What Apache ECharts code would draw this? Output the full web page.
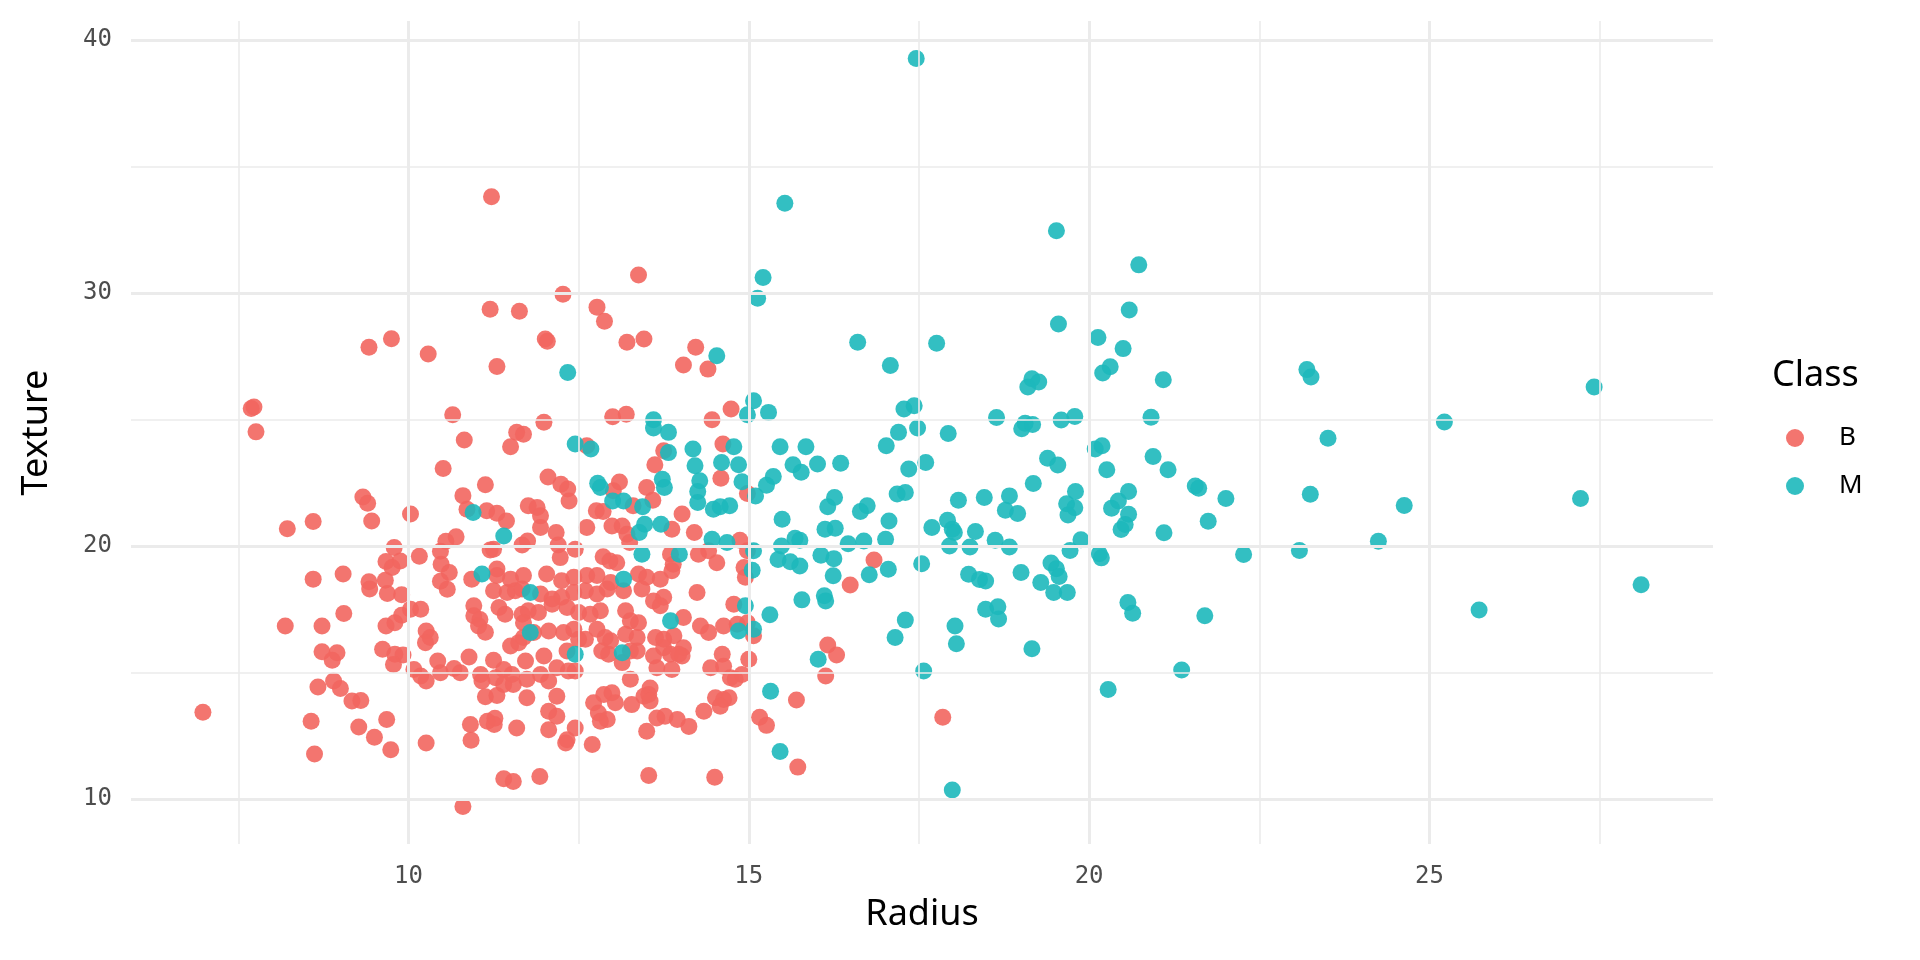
<!DOCTYPE html>
<html>
<head>
<meta charset="utf-8">
<title>Radius vs Texture</title>
<script src="https://cdn.jsdelivr.net/npm/echarts@6/dist/echarts.min.js"></script>
<style>
  html, body { margin: 0; padding: 0; background: #fff; }
  #main { width: 1920px; height: 960px; }
</style>
</head>
<body>
<div id="main"></div>
<script>
// values: [radius, texture]
var benign = [
  [7.69,25.44],[7.73,25.50],[7.76,24.52],[9.42,27.86],[9.75,28.20],[10.29,27.60],[11.30,27.10],[10.65,25.20],
  [10.82,24.20],[10.51,23.07],[11.13,22.43],[10.80,22.00],[10.86,21.46],[11.15,21.40],[11.30,21.30],[9.33,21.95],
  [9.40,21.70],[9.46,21.00],[10.03,21.27],[8.22,20.69],[8.60,20.98],[9.79,19.95],[10.16,19.60],[9.67,19.40],
  [9.76,19.16],[9.88,19.42],[10.47,19.80],[10.55,20.20],[10.70,20.37],[10.48,19.29],[10.60,18.96],[11.25,19.88],
  [11.20,19.85],[11.30,19.10],[9.04,18.90],[8.60,18.70],[9.42,18.60],[9.66,18.66],[10.93,18.70],
  [9.43,18.31],[9.69,18.13],[9.90,18.08],[10.47,18.62],[10.57,18.30],[11.25,18.24],[11.33,17.58],[10.03,17.51],
  [10.18,17.51],[9.90,17.27],[9.80,16.98],[9.67,16.85],[9.05,17.34],[8.19,16.85],[8.73,16.85],[10.96,17.65],
  [10.96,17.25],[11.05,17.10],[11.03,16.85],[11.13,16.60],[10.26,16.65],[10.32,16.39],[10.25,16.19],[9.62,15.93],
  [9.80,15.73],[9.92,15.70],[9.78,15.33],[8.73,15.83],[8.95,15.79],[8.88,15.49],[10.43,15.46],[10.08,15.13],
  [10.18,14.87],[10.26,14.67],[10.47,15.00],[10.67,15.17],[10.76,15.00],[10.89,15.62],[11.06,14.93],[11.08,14.67],
  [11.25,15.49],[11.28,14.80],[11.13,14.05],[11.30,14.10],[8.67,14.44],[8.90,14.67],[9.00,14.38],[9.17,13.88],
  [9.30,13.90],[8.57,13.08],[9.27,12.86],[9.68,13.15],[9.50,12.45],[9.74,11.96],[8.62,11.79],[10.26,12.22],
  [10.91,12.95],[10.92,12.33],[11.16,13.08],[11.27,13.20],[11.26,12.95],[6.98,13.44],[10.80,9.71],
  [12.01,28.19],[12.04,28.10],[13.21,28.06],[13.46,28.19],[14.22,27.86],[14.04,27.16],[14.40,27.00],[14.74,25.42],
  [14.46,25.00],[13.00,25.12],[13.20,25.22],[11.99,24.90],[11.59,24.50],[11.69,24.43],[11.50,23.93],[12.62,23.97],
  [13.75,23.77],[13.62,23.22],[14.62,24.04],[14.59,22.69],[14.98,22.08],[12.05,22.74],[12.24,22.45],[12.34,22.26],
  [12.36,21.79],[13.10,22.54],[13.01,22.19],[13.50,22.32],[13.59,21.82],[13.30,21.60],[11.76,21.60],[11.89,21.53],
  [11.94,21.20],[11.44,21.00],[11.94,20.74],[12.76,21.40],[12.86,21.37],[12.62,20.74],[14.02,21.27],[12.99,20.80],
  [13.14,20.80],[13.21,20.47],[13.87,20.67],[14.20,20.54],[14.87,20.24],[14.98,19.82],[11.67,20.05],[11.75,20.21],
  [12.17,20.54],[12.20,20.05],[12.23,19.55],[12.45,19.88],[12.86,19.58],[12.96,19.42],[13.06,19.35],[13.25,20.15],
  [13.85,19.68],[13.89,19.29],[14.26,19.68],[14.41,19.82],[14.53,19.35],[14.93,19.16],
  [11.30,18.84],[11.50,18.70],[11.69,18.84],[12.03,18.90],[12.25,18.64],[12.43,18.77],[12.62,18.84],[12.77,18.84],
  [12.97,18.57],[13.38,18.90],[13.50,18.77],[13.70,18.70],[13.87,19.03],[14.24,18.17],[14.95,18.77],
  [11.45,18.17],[11.57,18.24],[11.67,18.31],[11.94,18.11],[12.11,17.91],[12.25,17.98],[12.43,18.17],[12.60,18.24],
  [12.77,18.11],[12.92,18.31],[13.16,18.24],[13.43,18.31],[13.60,17.84],[13.75,17.98],[14.78,17.71],
  [11.42,17.31],[11.67,17.31],[11.76,17.45],[11.91,17.38],[12.11,17.71],[12.33,17.58],[12.50,17.38],[12.67,17.31],
  [12.82,17.45],[13.19,17.45],[13.26,17.05],[13.38,16.98],[13.70,17.65],[14.04,17.18],[14.29,16.85],[14.41,16.59],
  [14.63,16.85],[14.83,16.92],[14.98,16.98],[15.07,16.46],[11.69,16.98],
  [11.50,16.06],[11.62,16.19],[11.69,16.39],[11.84,16.59],[12.06,16.65],[12.28,16.59],[12.43,16.72],[12.50,16.32],
  [12.60,16.32],[12.77,16.72],[12.89,16.39],[12.97,16.26],[13.19,16.52],[13.36,16.39],[13.36,15.86],[13.63,16.39],
  [13.75,16.32],[13.90,16.46],[14.04,15.99],[14.02,15.66],
  [11.72,15.46],[11.99,15.66],[12.18,15.20],[12.33,15.86],[12.35,15.07],[12.45,15.07],[12.84,15.86],[12.94,15.73],
  [13.14,15.40],[13.26,15.86],[13.60,15.66],[13.65,15.20],[13.75,15.99],[13.85,15.73],[13.87,15.13],[13.97,15.73],
  [14.44,15.20],[14.61,15.73],[14.63,15.26],[14.80,14.74],[15.00,15.53],
  [11.40,15.13],[11.52,14.93],[11.40,14.54],[11.54,14.54],[11.74,14.74],[11.94,14.93],[12.06,14.67],[12.18,14.07],
  [13.26,14.74],[13.55,14.40],[13.53,14.14],[14.90,14.93],[14.73,14.80],
  [11.74,14.01],[12.72,13.81],[12.87,14.14],[12.99,14.21],[13.04,13.81],[13.28,13.74],[13.46,14.07],[13.55,13.88],
  [14.51,14.01],[14.63,13.94],[14.71,14.01],[14.58,13.68],[14.34,13.48],
  [11.59,12.82],[12.06,13.48],[12.18,13.28],[12.06,12.75],[12.45,12.82],[12.79,13.41],[12.82,13.08],[12.92,13.15],
  [13.65,13.21],[13.77,13.28],[13.95,13.15],[14.12,12.88],[13.50,12.69],
  [12.33,12.35],[12.31,12.22],[12.70,12.16],
  [11.40,10.81],[11.54,10.70],[11.93,10.90],[13.53,10.94],[14.50,10.87],
  [16.84,19.46],[16.49,18.47],[16.16,16.10],[16.29,15.70],[16.13,14.87],[15.70,13.92],[15.16,13.24],[15.26,12.92],
  [17.85,13.24],[15.72,11.27],
  [11.22,33.81],[13.38,30.72],[12.27,29.96],[11.20,29.37],[11.63,29.29],[12.77,29.45],[12.88,28.89]
];

var malignant = [
  [10.95,21.33],[11.08,18.90],[11.40,20.40],
  [12.34,26.87],[14.53,27.53],[15.07,25.75],[14.98,25.20],[13.60,25.00],[13.60,24.67],[13.82,24.50],[12.45,24.04],
  [12.68,23.84],[13.82,23.70],[14.18,23.84],[14.21,23.18],[14.28,22.59],[14.25,22.16],[14.25,21.73],[14.78,23.93],
  [14.60,23.31],[14.85,23.22],[14.90,22.55],[15.10,21.99],[14.48,21.46],[14.58,21.56],[14.72,21.60],[13.73,22.65],
  [13.76,22.32],[12.78,22.49],[12.82,22.32],[13.00,21.79],[13.16,21.79],[13.44,21.56],[13.47,20.87],[13.39,20.54],
  [13.71,20.87],[14.46,20.28],[14.68,20.15],[15.07,19.82],[13.43,19.68],[13.98,19.68],[15.05,19.05],
  [13.16,18.70],[11.79,18.17],[14.95,17.65],[13.85,17.05],[15.07,16.72],[14.85,16.65],[11.79,16.59],[12.45,15.73],
  [13.14,15.79],
  [16.60,28.06],[17.76,28.02],[17.08,27.14],[15.29,25.29],[17.28,25.42],[17.43,25.55],[18.64,25.09],[17.20,24.50],
  [17.48,24.67],[17.93,24.46],[17.02,23.97],[15.46,23.93],[15.84,23.93],[15.65,23.22],[15.77,22.92],[16.01,23.25],
  [16.35,23.28],[17.35,23.05],[17.60,23.31],[15.36,22.76],[15.26,22.41],[17.18,22.06],[17.30,22.12],[16.26,21.93],
  [16.16,21.56],[16.74,21.60],[16.64,21.37],[18.08,21.82],[18.46,21.93],[18.83,21.99],[18.77,21.42],[18.95,21.29],
  [15.49,21.07],[17.06,21.00],[16.12,20.67],[16.27,20.71],[17.69,20.74],[17.92,21.03],[17.99,20.67],[18.02,20.54],
  [18.33,20.58],[15.68,20.32],[15.75,20.24],[15.48,20.01],[16.46,20.10],[16.69,20.21],[17.01,20.28],[17.95,20.01],
  [18.25,19.97],[18.62,20.24],[18.83,19.97],[15.43,19.48],[15.61,19.39],[15.75,19.22],[16.06,19.64],[16.25,19.51],
  [17.05,19.09],[16.77,18.87],[16.24,18.83],[17.54,19.31],[18.23,18.89],[18.39,18.69],[18.48,18.63],[19.00,18.96],
  [15.78,17.88],[16.11,18.04],[16.13,17.84],[15.31,17.29],[17.30,17.08],[17.15,16.39],[18.03,16.85],[18.05,16.15],
  [18.48,17.51],[18.66,17.61],[18.67,17.12],[16.02,15.53],[17.57,15.07],[15.32,14.27],[15.46,11.89],[17.99,10.37],
  [19.55,28.78],[20.59,29.34],[20.13,28.25],[20.50,27.81],[20.20,26.85],[20.31,27.09],[21.09,26.58],[19.10,26.29],
  [19.16,26.62],[19.26,26.49],[23.20,26.98],[23.26,26.69],[19.01,24.64],[19.06,24.86],[19.17,24.81],[19.59,24.99],
  [19.79,25.13],[20.91,25.10],[20.09,23.84],[20.19,23.97],[19.39,23.48],[19.54,23.21],[20.26,23.02],[20.94,23.55],
  [21.16,23.02],[21.56,22.38],[21.61,22.29],[22.01,21.89],[19.18,22.48],[19.80,22.16],[19.67,21.68],[19.79,21.52],
  [19.69,21.23],[20.58,22.16],[20.43,21.79],[20.33,21.50],[20.58,21.26],[20.53,20.86],[20.47,20.66],[21.75,20.99],
  [21.10,20.53],[23.25,22.05],[19.88,20.26],[19.72,19.83],[20.15,19.70],[20.18,19.54],[19.44,19.34],[19.52,19.11],
  [22.27,19.67],[23.09,19.83],
  [19.29,18.57],[19.56,18.80],[19.48,18.17],[19.68,18.17],[20.57,17.78],[20.64,17.35],[21.70,17.25],[19.16,15.95],
  [21.36,15.11],[20.28,14.34],
  [17.46,39.28],[15.53,33.56],[15.21,30.62],[15.13,29.80],
  [23.51,24.27],[25.22,24.91],[27.42,26.29],[24.63,21.61],[24.25,20.20],[27.22,21.89],[28.11,18.48],[25.73,17.48],
  [19.52,32.47],[20.73,31.12]
];

var classNames = ['B', 'M'];
var classColors = ['#F2665F', '#1DB8BB'];
var xLabels = [10, 15, 20, 25];
var xGrid = [7.5, 10, 12.5, 15, 17.5, 20, 22.5, 25, 27.5];
var yLabels = [10, 20, 30, 40];
var yGrid = [10, 15, 20, 25, 30, 35, 40];

// ggplot-like 5% expansion of the data range
function expand(vals, i) {
  var lo = Infinity, hi = -Infinity;
  vals.forEach(function(p) { lo = Math.min(lo, p[i]); hi = Math.max(hi, p[i]); });
  var pad = (hi - lo) * 0.05;
  return [lo - pad, hi + pad];
}
var all = benign.concat(malignant);
var xr = expand(all, 0);
var yr = expand(all, 1);

function gridLines(axisKey, values, majors) {
  return values.map(function(v) {
    var d = {};
    d[axisKey] = v;
    d.lineStyle = {
      color: '#EBEBEB',
      type: 'solid',
      width: majors.indexOf(v) >= 0 ? 3 : 1.6
    };
    return d;
  });
}

var myChart = echarts.init(document.getElementById('main'));

var option = {
  animation: false,
  backgroundColor: '#fff',
  title: {
    text: 'Class',
    left: 1772,
    top: 358,
    padding: 0,
    textStyle: { fontFamily: 'Noto Sans', fontSize: 36, fontWeight: 'normal', color: '#000' }
  },
  legend: {
    data: classNames,
    orient: 'vertical',
    left: 1786,
    top: 425,
    padding: 0,
    icon: 'circle',
    itemWidth: 18,
    itemHeight: 18,
    itemGap: 22,
    textStyle: { fontFamily: 'Noto Sans', fontSize: 26, lineHeight: 18, color: '#000', padding: [0, 0, 0, 30] }
  },
  grid: { left: 131, right: 207, top: 21, bottom: 116, containLabel: false },
  xAxis: {
    type: 'value',
    min: xr[0],
    max: xr[1],
    name: 'Radius',
    nameLocation: 'middle',
    nameGap: 53,
    nameTextStyle: { fontFamily: 'Noto Sans', fontSize: 36, color: '#000' },
    axisLine: { show: false },
    axisTick: { show: false },
    splitLine: { show: false },
    axisLabel: {
      customValues: xLabels,
      margin: 21,
      fontFamily: 'DejaVu Sans Mono',
      fontSize: 24,
      color: '#4D4D4D'
    }
  },
  yAxis: {
    type: 'value',
    min: yr[0],
    max: yr[1],
    name: 'Texture',
    nameLocation: 'middle',
    nameGap: 76,
    nameTextStyle: { fontFamily: 'Noto Sans', fontSize: 36, color: '#000' },
    axisLine: { show: false },
    axisTick: { show: false },
    splitLine: { show: false },
    axisLabel: {
      customValues: yLabels,
      margin: 19,
      fontFamily: 'DejaVu Sans Mono',
      fontSize: 24,
      color: '#4D4D4D'
    }
  },
  series: [{
    name: 'grid',
    type: 'line',
    data: [],
    z: 0,
    silent: true,
    markLine: {
      silent: true,
      symbol: 'none',
      label: { show: false },
      animation: false,
      data: gridLines('xAxis', xGrid, xLabels).concat(gridLines('yAxis', yGrid, yLabels))
    }
  }, {
    name: classNames[0],
    type: 'scatter',
    z: 2,
    symbolSize: 17,
    data: benign,
    itemStyle: { color: classColors[0], opacity: 0.9 }
  }, {
    name: classNames[1],
    type: 'scatter',
    z: 3,
    symbolSize: 17,
    data: malignant,
    itemStyle: { color: classColors[1], opacity: 0.9 }
  }]
};

myChart.setOption(option);
</script>
</body>
</html>
